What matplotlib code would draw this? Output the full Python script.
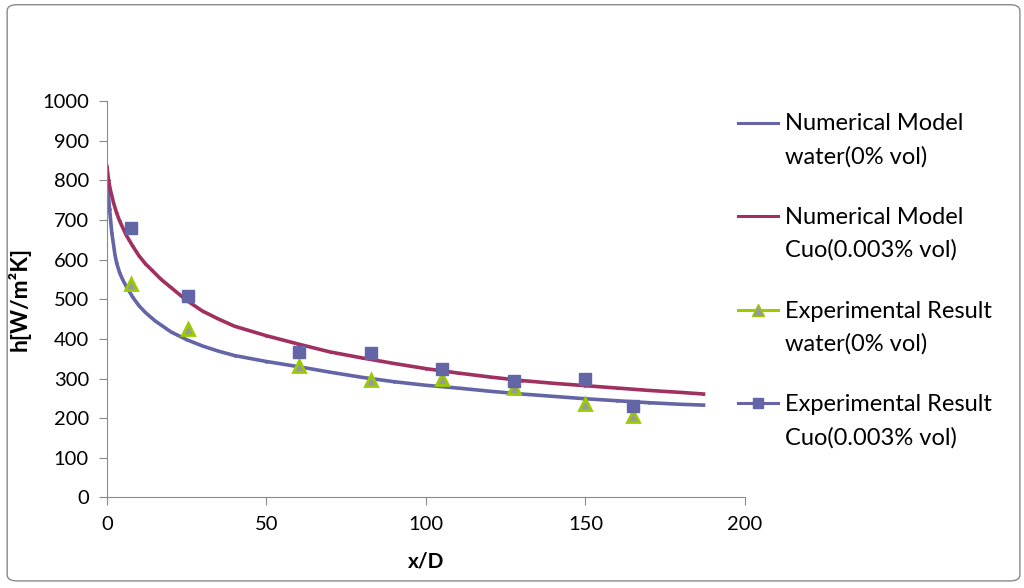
import matplotlib
matplotlib.use('Agg')
import matplotlib.pyplot as plt
from matplotlib.patches import FancyBboxPatch
from matplotlib.lines import Line2D
from matplotlib.legend_handler import HandlerLine2D

plt.rcParams.update({
    'font.family': ['Lato', 'DejaVu Sans'],
    'font.size': 14.5,
})

# numerical model curves
water_x = [0, 0.4, 0.8, 1.5, 2.5, 3, 4, 5, 6, 7, 8, 10, 12, 15, 20, 25, 30, 35,
           40, 50, 60, 70, 80, 90, 100, 110, 120, 130, 140, 150, 160, 170, 180, 187]
water_num = [802, 765, 728, 668, 612, 592, 566, 548, 533, 520, 506, 484, 467, 446,
             418, 398, 382, 369, 358, 343, 330, 316, 303, 292, 283, 276, 268, 261,
             255, 249, 244, 239, 235, 233]
cuo_x = [0, 0.5, 1, 2, 3, 4, 6, 8, 10, 12, 14, 17, 20, 25, 30, 35, 40, 50, 60,
         70, 80, 90, 100, 110, 120, 130, 140, 150, 160, 170, 180, 187]
cuo_num = [835, 800, 778, 745, 718, 697, 662, 635, 610, 590, 574, 550, 530, 497,
           470, 450, 432, 408, 387, 367, 352, 338, 325, 314, 304, 295, 288, 282,
           276, 270, 265, 261]

# experimental points
exp_x = [7.5, 25.3, 60.2, 82.8, 105, 127.5, 150, 165]
water_exp = [538, 425, 331, 297, 298, 277, 236, 205]
cuo_exp = [680, 509, 368, 364, 324, 295, 299, 230]

labels = ['Numerical Model\nwater(0% vol)', 'Numerical Model\nCuo(0.003% vol)',
          'Experimental Result\nwater(0% vol)', 'Experimental Result\nCuo(0.003% vol)']

blue = '#6465a7'
red = '#a0305f'
green = '#99cc00'
gray_tri = '#999999'


class FirstLineHandler(HandlerLine2D):
    # Excel puts the legend key next to the first line of a wrapped label
    def create_artists(self, legend, orig_handle, xdescent, ydescent,
                       width, height, fontsize, trans):
        return super().create_artists(legend, orig_handle, xdescent,
                                      ydescent - 26, width, height,
                                      fontsize, trans)


fig = plt.figure(figsize=(10.24, 5.88), dpi=100)
ax = fig.add_axes([0.1045, 0.154, 0.623, 0.674])

ax.plot(water_x, water_num, color=blue, linewidth=2.6, marker='.', markersize=2)
ax.plot(cuo_x, cuo_num, color=red, linewidth=2.6, marker='.', markersize=2)
ax.plot(exp_x, water_exp, linestyle='none', marker='^', markersize=9,
        markerfacecolor=gray_tri, markeredgecolor=green, markeredgewidth=2)
ax.plot(exp_x, cuo_exp, linestyle='none', marker='s', markersize=8, color=blue)

ax.set_xlim(0, 200)
ax.set_ylim(0, 1000)
ax.set_xticks(range(0, 201, 50))
ax.set_yticks(range(0, 1001, 100))
ax.set_xlabel('x/D', fontweight='bold', labelpad=14, fontsize=15)
ax.set_ylabel('h[W/m²K]', fontweight='bold', labelpad=8, fontsize=16.5)

for s in ['top', 'right']:
    ax.spines[s].set_visible(False)
for s in ['left', 'bottom']:
    ax.spines[s].set_color('#8a8a8a')
ax.tick_params(direction='out', length=6, color='#8a8a8a', pad=7)

handles = [
    Line2D([], [], color=blue, linewidth=2.2),
    Line2D([], [], color=red, linewidth=2.2),
    Line2D([], [], color=green, linewidth=2.2, marker='^', markersize=8,
           markerfacecolor=gray_tri, markeredgecolor=green),
    Line2D([], [], color=blue, linewidth=2.2, marker='s', markersize=7),
]
leg = fig.legend(handles, labels, loc='upper left', bbox_to_anchor=(0.7207, 0.807),
                 frameon=False, fontsize=17, labelspacing=1.68, handlelength=1.7,
                 handletextpad=0.3, borderpad=0, borderaxespad=0,
                 handler_map={Line2D: FirstLineHandler()})
for t in leg.get_texts():
    t.set_linespacing(1.65)

fig.patches.append(FancyBboxPatch((0.007, 0.012), 0.989, 0.98,
                                  boxstyle='round,pad=0,rounding_size=0.01',
                                  transform=fig.transFigure, fill=False,
                                  edgecolor='#8a8a8a', linewidth=1))

fig.savefig('out.png', dpi=100)
